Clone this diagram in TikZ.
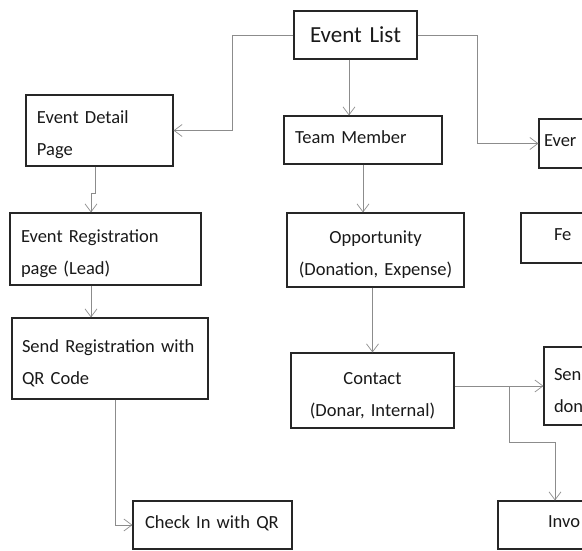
\documentclass[tikz,border=0pt]{standalone}
\usepackage{fontspec}
\setmainfont[WordSpace=0.8]{Carlito}
\usetikzlibrary{arrows.meta}
\begin{document}
\begin{tikzpicture}[x=1pt,y=-1pt,
	box/.style={draw=black!85,line width=1.1pt,inner ysep=0pt,text=black!90,font=\fontsize{18.5}{32}\selectfont},
	oneline/.style={text depth=6pt},
	twoline/.style={execute at begin node={\rule{0pt}{22pt}}},
	link/.style={draw=black!45,line width=.7pt,-{Straight Barb[length=8pt,width=12pt]}}]
		\useasboundingbox (0,0) rectangle (582,550);
		\clip (0,0) rectangle (582,550);
		%=========== boxes, from top to bottom===========================
		\node[box,font=\fontsize{23}{28}\selectfont,minimum height=48,inner xsep=4,text width=115pt,align=center] (list) at (355.5,35) {Event List};
		\node[box,twoline,minimum height=71,inner xsep=11,text width=125pt,align=left] (detail) at (99.5,130.5) {Event Detail\\Page};
		\node[box,oneline,minimum height=48,inner xsep=11,text width=136pt,align=left] (team) at (363,140) {Team Member};
		\node[box,oneline,minimum height=49,inner xsep=5,text width=131pt,align=left] (ever) at (609.5,143.5) {Ever};
		\node[box,twoline,minimum height=72,inner xsep=11,text width=169pt,align=left] (reg) at (105.5,249) {Event Registration\\page (Lead)};
		\node[box,twoline,minimum height=74,inner xsep=4,text width=169pt,align=center] (opp) at (375.5,250) {Opportunity\\(Donation, Expense)};
		\node[box,oneline,minimum height=50,inner xsep=33,text width=93pt,align=left] (fe) at (600.5,238) {Fe};
		\node[box,twoline,minimum height=81,inner xsep=10,text width=176pt,align=left] (sendreg) at (110,358.5) {Send Registration with\\QR Code};
		\node[box,twoline,minimum height=75,inner xsep=4,text width=155pt,align=center] (contact) at (372.5,390.5) {Contact\\(Donar, Internal)};
		\node[box,twoline,minimum height=78,inner xsep=10,text width=116pt,align=left] (sen) at (612,386) {Sen\\don};
		\node[box,oneline,minimum height=48,inner xsep=12,text width=135pt,align=left] (checkin) at (212.5,525) {Check In with QR};
		\node[box,oneline,minimum height=48,inner xsep=50,text width=81pt,align=left] (invo) at (588.5,525) {Invo};
		%=========== connectors===========================
		\draw[link] (list.west) -- ++(-61,0) |- (detail.east);
		\draw[link] (list.east) -- ++(60,0) |- (ever.west);
		\draw[link] ([xshift=-6.5pt]list.south) -- ([xshift=-6.5pt]list.south |- team.north);
		\draw[link] (team.south) -- (team.south |- opp.north);
		\draw[link] (contact.north |- opp.south) -- (contact.north);
		\draw[link] (sen.west -| contact.east) -- (sen.west);
		\draw[link] (sen.west -| contact.east) ++(55,0) -- ++(0,56) -| ([xshift=-33.5pt]invo.north);
		\draw[link] ([xshift=-4.5pt]detail.south) -- ++(0,27) -- ++(-4,0) -- ([xshift=-14.5pt]reg.north);
		\draw[link] ([xshift=-14.5pt]reg.south) -- ([xshift=-14.5pt]reg.south |- sendreg.north);
		\draw[link] ([xshift=5pt]sendreg.south) |- (checkin.west);
	\end{tikzpicture}
\end{document}
